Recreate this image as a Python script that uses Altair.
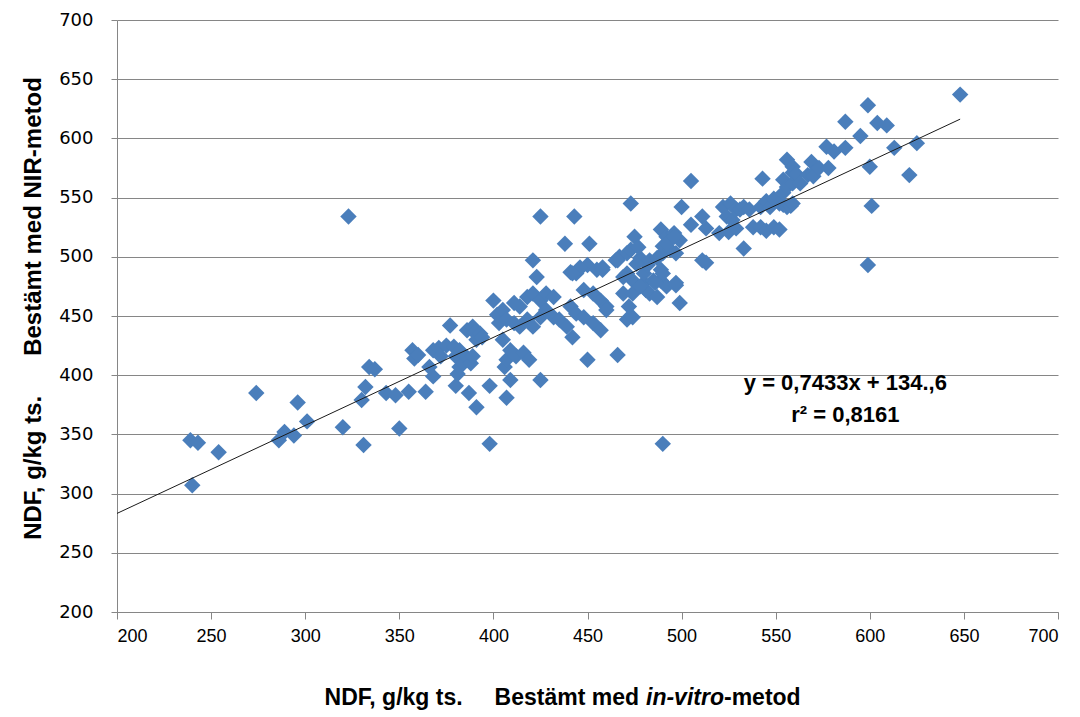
import altair as alt
import pandas as pd

# NDF in-vitro (x) vs NIR (y), g/kg ts.
x_invitro = [
    239, 243, 240, 254, 274, 286, 289, 294, 296, 301,
    320, 323, 331, 330, 332, 334, 337, 343, 348, 350,
    355, 357, 358, 360, 364, 366, 368, 368, 371, 372,
    375, 377, 379, 380, 380, 381, 382, 382, 384, 386,
    386, 387, 388, 389, 389, 390, 391, 391, 393, 394,
    398, 398, 400, 402, 403, 405, 405, 406, 407, 407,
    407, 409, 409, 411, 411, 412, 414, 414, 416, 418,
    418, 419, 421, 421, 421, 423, 425, 425, 425, 425,
    428, 428, 432, 432, 435, 439, 438, 441, 441, 442,
    443, 444, 444, 446, 448, 448, 450, 450, 451, 453,
    453, 455, 457, 457, 458, 460, 460, 465, 466, 467,
    469, 469, 471, 471, 473, 474, 474, 474, 478, 480,
    480, 481, 482, 483, 483, 485, 487, 487, 489,
    489, 489, 490, 490, 490, 492, 492, 494, 496, 497,
    497, 499, 499, 500, 505, 505, 511, 511, 513, 513,
    520, 522, 524, 525, 526, 527, 529, 529, 531, 533,
    533, 536, 538, 542, 542, 543, 545, 545, 547, 549,
    549, 552, 552, 554, 554, 554, 556, 556, 556, 558,
    559, 559, 559, 559, 561, 563, 567, 569, 570, 570,
    573, 577, 578, 581, 587, 587, 595, 599, 600, 599,
    601, 604, 609, 613, 621, 625, 648, 490,
    473, 475, 477, 476, 471, 446, 458, 478, 486, 497,
    472, 492, 496, 466, 442,
]
y_nir = [
    345, 343, 307, 335, 385, 345, 352, 349, 377, 361,
    356, 534, 341, 379, 390, 407, 405, 385, 383, 355,
    386, 421, 414, 417, 386, 407, 399, 421, 423, 416,
    425, 442, 424, 391, 416, 401, 407, 421, 410, 415,
    438, 385, 410, 441, 416, 436, 373, 430, 435, 432,
    391, 342, 463, 451, 444, 455, 430, 407, 413, 447,
    381, 396, 421, 444, 461, 416, 458, 441, 419, 466,
    447, 413, 469, 441, 497, 483, 534, 396, 463, 449,
    469, 455, 466, 449, 447, 441, 511, 487, 458, 432,
    534, 486, 452, 490, 472, 449, 493, 413, 511, 469,
    444, 489, 463, 438, 491, 458, 455, 497, 417, 500,
    483, 469, 503, 447, 506, 480, 469, 449, 499, 478,
    486, 472, 493, 469, 497, 480, 499, 466, 489,
    480, 523, 486, 503, 509, 475, 517, 506, 520, 503,
    476, 514, 461, 542, 564, 527, 534, 497, 524, 495,
    520, 542, 534, 521, 545, 531, 540, 524, 540, 542,
    507, 540, 525, 542, 525, 566, 547, 522, 542, 549,
    525, 545, 523, 565, 544, 554, 542, 582, 559, 543,
    576, 562, 545, 571, 570, 562, 569, 580, 571, 568,
    575, 593, 575, 589, 614, 592, 602, 628, 576, 493,
    543, 613, 611, 592, 569, 596, 637, 342,
    545, 517, 508, 494, 486, 491, 489, 475, 478, 478,
    458, 511, 517, 497, 486,
]

# Linear trendline as printed on the chart
slope = 0.7433
intercept = 134.6
trend_x = [200, 648]
eq_line1 = "y = 0,7433x + 134.,6"
eq_line2 = "r² = 0,8161"

axis_ticks = [200, 250, 300, 350, 400, 450, 500, 550, 600, 650, 700]

NB = "\u00a0"
y_title = f"NDF, g/kg ts.{NB*6}Bestämt med NIR-metod"
x_title_a = f"NDF, g/kg ts.{NB*5}Bestämt med"
x_title_b = "in-vitro"
x_title_c = "-metod"

points_df = pd.DataFrame({"x": x_invitro, "y": y_nir})
trend_df = pd.DataFrame({"x": trend_x, "y": [slope * v + intercept for v in trend_x]})

TITLE_FONT = "Liberation Sans"
GRID = "#868686"

xscale = alt.Scale(domain=[200, 700], nice=False, zero=False)
yscale = alt.Scale(domain=[200, 700], nice=False, zero=False)

points = alt.Chart(points_df).mark_point(
    shape="diamond", filled=True, size=270, color="#4A7EBB", opacity=1, strokeWidth=0
).encode(
    x=alt.X("x:Q", scale=xscale, axis=alt.Axis(
        values=axis_ticks, grid=False, title=None,
        domainColor=GRID, tickColor=GRID, tickSize=7,
        labelFont="Liberation Sans", labelFontSize=18, labelColor="#000000", labelPadding=8,
    )),
    y=alt.Y("y:Q", scale=yscale, axis=alt.Axis(
        values=axis_ticks, grid=True, gridColor=GRID, gridWidth=1,
        domainColor=GRID, tickColor=GRID, tickSize=6,
        labelFont="DejaVu Sans", labelFontSize=18, labelColor="#000000", labelPadding=18,
        title=y_title, titleFont=TITLE_FONT, titleFontSize=24, titleFontWeight="bold",
        titleColor="#000000", titlePadding=13, titleY=288,
    )),
)

trend = alt.Chart(trend_df).mark_line(color="#1a1a1a", strokeWidth=1).encode(
    x=alt.X("x:Q", scale=xscale),
    y=alt.Y("y:Q", scale=yscale),
)

eq_df = pd.DataFrame({"t": [eq_line1]})
r2_df = pd.DataFrame({"t": [eq_line2]})

eq1 = alt.Chart(eq_df).mark_text(
    font=TITLE_FONT, fontSize=22, fontWeight="bold", color="#000000", align="center", baseline="middle"
).encode(x=alt.datum(587, scale=xscale), y=alt.datum(393, scale=yscale), text="t:N")
eq2 = alt.Chart(r2_df).mark_text(
    font=TITLE_FONT, fontSize=22, fontWeight="bold", color="#000000", align="center", baseline="middle"
).encode(x=alt.datum(587, scale=xscale), y=alt.datum(366, scale=yscale), text="t:N")

ta_df = pd.DataFrame({"t": [x_title_a]})
tb_df = pd.DataFrame({"t": [x_title_b]})
tc_df = pd.DataFrame({"t": [x_title_c]})

title_y = 678
split_x = 522
gap = 7
t_a = alt.Chart(ta_df).mark_text(
    font=TITLE_FONT, fontSize=23, fontWeight="bold", color="#000000", align="right", baseline="middle"
).encode(x=alt.value(split_x), y=alt.value(title_y), text="t:N")
t_b = alt.Chart(tb_df).mark_text(
    font=TITLE_FONT, fontSize=23, fontWeight="bold", fontStyle="italic", color="#000000",
    align="left", baseline="middle"
).encode(x=alt.value(split_x + gap), y=alt.value(title_y), text="t:N")
t_c = alt.Chart(tc_df).mark_text(
    font=TITLE_FONT, fontSize=23, fontWeight="bold", color="#000000", align="left", baseline="middle"
).encode(x=alt.value(split_x + gap + 78), y=alt.value(title_y), text="t:N")

chart = alt.layer(points, trend, eq1, eq2, t_a, t_b, t_c).properties(
    width=941, height=592,
    autosize=alt.AutoSizeParams(type="none"),
    padding={"left": 109, "top": 12, "right": 10, "bottom": 105},
    background="#ffffff",
).configure_view(stroke=None)

chart.save("out.html", embed_options={"renderer": "svg", "actions": False})
